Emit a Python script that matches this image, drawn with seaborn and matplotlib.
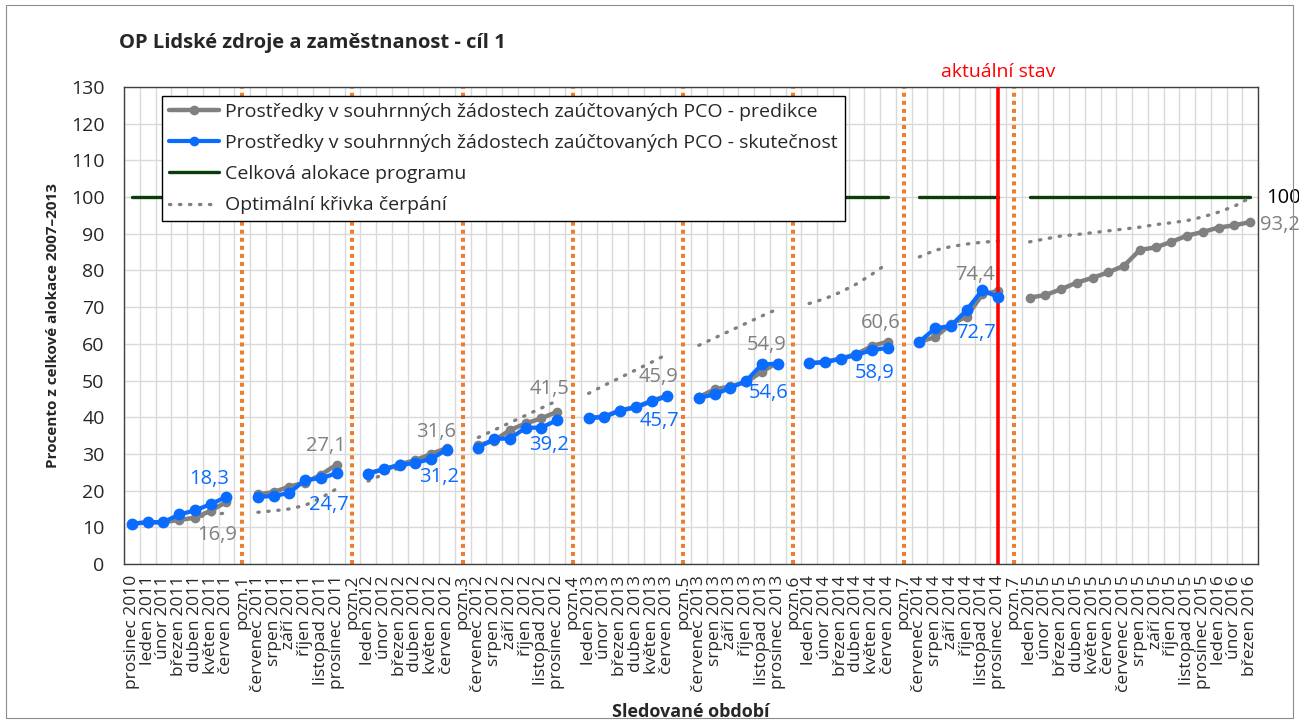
import numpy as np
import pandas as pd
import seaborn as sns
import matplotlib.pyplot as plt
from matplotlib.lines import Line2D
from matplotlib.patches import Rectangle
import matplotlib.transforms as mtransforms

sns.set_style("white")
plt.rcParams['font.family'] = ['Open Sans', 'DejaVu Sans']

N = None

# x axis categories (pozn. = separator between half-years)
categories = [
    'prosinec 2010', 'leden 2011', 'únor 2011', 'březen 2011', 'duben 2011', 'květen 2011', 'červen 2011', 'pozn.1',
    'červenec 2011', 'srpen 2011', 'září 2011', 'říjen 2011', 'listopad 2011', 'prosinec 2011', 'pozn.2',
    'leden 2012', 'únor 2012', 'březen 2012', 'duben 2012', 'květen 2012', 'červen 2012', 'pozn.3',
    'červenec 2012', 'srpen 2012', 'září 2012', 'říjen 2012', 'listopad 2012', 'prosinec 2012', 'pozn.4',
    'leden 2013', 'únor 2013', 'březen 2013', 'duben 2013', 'květen 2013', 'červen 2013', 'pozn.5',
    'červenec 2013', 'srpen 2013', 'září 2013', 'říjen 2013', 'listopad 2013', 'prosinec 2013', 'pozn.6',
    'leden 2014', 'únor 2014', 'březen 2014', 'duben 2014', 'květen 2014', 'červen 2014', 'pozn.7',
    'červenec 2014', 'srpen 2014', 'září 2014', 'říjen 2014', 'listopad 2014', 'prosinec 2014', 'pozn.7',
    'leden 2015', 'únor 2015', 'březen 2015', 'duben 2015', 'květen 2015', 'červen 2015',
    'červenec 2015', 'srpen 2015', 'září 2015', 'říjen 2015', 'listopad 2015', 'prosinec 2015',
    'leden 2016', 'únor 2016', 'březen 2016',
]

predikce = [
    11.0, 11.3, 11.4, 12.0, 12.6, 14.5, 16.9, N,
    19.0, 19.6, 21.1, 22.2, 24.3, 27.1, N,
    24.8, 25.7, 27.2, 28.3, 30.0, 31.6, N,
    32.4, 33.6, 36.5, 38.3, 39.7, 41.5, N,
    39.8, 40.2, 41.9, 42.8, 44.5, 45.9, N,
    45.5, 47.6, 48.4, 49.6, 52.4, 54.9, N,
    54.7, 55.1, 56.0, 57.2, 59.4, 60.6, N,
    60.6, 61.8, 65.4, 67.4, 73.5, 74.4, N,
    72.6, 73.3, 74.9, 76.7, 78.0, 79.5, 81.3, 85.6, 86.3, 87.8, 89.5, 90.5, 91.7, 92.3, 93.2,
]

skutecnost = [
    11.0, 11.4, 11.4, 13.5, 14.6, 16.3, 18.3, N,
    18.3, 18.5, 19.4, 22.9, 23.4, 24.7, N,
    24.6, 25.9, 26.9, 27.6, 28.6, 31.2, N,
    31.7, 34.1, 34.2, 37.1, 37.2, 39.2, N,
    39.7, 40.1, 41.8, 42.7, 44.3, 45.7, N,
    45.3, 46.2, 48.0, 49.9, 54.4, 54.6, N,
    54.7, 55.0, 55.9, 57.0, 58.3, 58.9, N,
    60.6, 64.2, 64.9, 69.2, 74.7, 72.7, N,
    N, N, N, N, N, N, N, N, N, N, N, N, N, N, N,
]

optimalni = [
    11.0, 11.2, 11.5, 12.0, 12.7, 13.4, 13.9, N,
    14.1, 14.5, 15.0, 16.0, 18.0, 20.5, N,
    22.6, 24.5, 26.3, 28.0, 29.5, 31.0, N,
    34.5, 36.5, 38.5, 40.5, 42.5, 44.5, N,
    46.5, 48.7, 50.8, 52.9, 55.0, 57.2, N,
    59.6, 61.6, 63.6, 65.6, 67.6, 69.5, N,
    71.0, 72.3, 74.1, 76.3, 79.0, 82.0, N,
    83.7, 85.5, 86.5, 87.2, 87.7, 88.0, N,
    87.8, 88.6, 89.4, 89.8, 90.3, 90.8, 91.3, 91.8, 92.5, 93.0, 93.6, 94.6, 95.9, 97.5, 99.8,
]

alokace = [N if c.startswith('pozn') else 100 for c in categories]

pozn_idx = [i for i, c in enumerate(categories) if c.startswith('pozn')]
aktualni_idx = 55

c_grey = '#808080'
c_blue = '#0A6CFF'
c_green = '#0B3D0B'
c_orange = '#ED7D31'


def segments(values):
    df = pd.DataFrame({'x': np.arange(len(values)), 'y': pd.array(values, dtype='Float64')})
    df['seg'] = df['y'].isna().cumsum()
    df = df.dropna().astype({'y': float})
    return df


fig = plt.figure(figsize=(12.99, 7.22), dpi=100)
ax = fig.add_axes([124 / 1299, 1 - 564 / 722, 1134 / 1299, 477 / 722])

sns.lineplot(data=segments(alokace), x='x', y='y', units='seg', estimator=None, sort=False,
             color=c_green, lw=2.4, ax=ax, legend=False, zorder=3)
sns.lineplot(data=segments(optimalni), x='x', y='y', units='seg', estimator=None, sort=False,
             color=c_grey, lw=2.4, ls=(0, (0.4, 2.6)), dash_capstyle='round', ax=ax, legend=False, zorder=4)
sns.lineplot(data=segments(predikce), x='x', y='y', units='seg', estimator=None, sort=False,
             color=c_grey, lw=3.2, marker='o', markersize=7, markeredgewidth=0, ax=ax, legend=False, zorder=5)
sns.lineplot(data=segments(skutecnost), x='x', y='y', units='seg', estimator=None, sort=False,
             color=c_blue, lw=3.0, marker='o', markersize=8.5, markeredgewidth=0, ax=ax, legend=False, zorder=6)

for i in pozn_idx:
    ax.axvline(i, color=c_orange, lw=2.9, ls=(0, (1, 1)), zorder=2)
ax.axvline(aktualni_idx, color='#FF0000', lw=2.6, zorder=5.5)
trans = mtransforms.blended_transform_factory(ax.transData, ax.transAxes)
ax.text(aktualni_idx, 1.031, 'aktuální stav', color='#FF0000', fontsize=14,
        ha='center', va='center', transform=trans)

# data labels: (index, value, text, colour, dx px, dy px)
labels = [
    (6, 18.3, '18,3', c_blue, -17, 18), (6, 16.9, '16,9', c_grey, -9, -33),
    (13, 27.1, '27,1', c_grey, -11, 19), (13, 24.7, '24,7', c_blue, -8, -32),
    (20, 31.6, '31,6', c_grey, -11, 16), (20, 31.2, '31,2', c_blue, -8, -27),
    (27, 41.5, '41,5', c_grey, -8, 23), (27, 39.2, '39,2', c_blue, -8, -25),
    (34, 45.9, '45,9', c_grey, -9, 19), (34, 45.7, '45,7', c_blue, -8, -25),
    (41, 54.9, '54,9', c_grey, -11, 18), (41, 54.6, '54,6', c_blue, -9, -29),
    (48, 60.6, '60,6', c_grey, -7, 19), (48, 58.9, '58,9', c_blue, -13, -25),
    (55, 74.4, '74,4', c_grey, -23, 16), (55, 72.7, '72,7', c_blue, -22, -36),
]
for i, v, t, c, dx, dy in labels:
    ax.annotate(t, (i, v), xytext=(dx, dy), textcoords='offset pixels', color=c,
                fontsize=14.5, ha='center', va='center', zorder=8)
ax.annotate('93,2', (71, 93.2), xytext=(10, -3), textcoords='offset pixels', color=c_grey,
            fontsize=14.5, ha='left', va='center', annotation_clip=False)
ax.annotate('100', (71, 100), xytext=(16, -1), textcoords='offset pixels', color='black',
            fontsize=14.5, ha='left', va='center', annotation_clip=False)

ax.set_xlim(-0.5, len(categories) - 0.5)
ax.set_ylim(0, 130)
ax.set_yticks(np.arange(0, 131, 10))
ax.set_xticks(np.arange(len(categories)))
ax.set_xticklabels(categories, rotation=90, fontsize=12.5)
ax.set_xticks(np.arange(-0.5, len(categories), 1), minor=True)
ax.tick_params(axis='y', labelsize=14, length=0, pad=14)
ax.tick_params(axis='x', which='major', length=5, width=1, color='#404040', direction='out', pad=3)
ax.tick_params(axis='x', which='minor', length=0)
ax.grid(axis='y', color='#D9D9D9', lw=1)
ax.grid(axis='x', which='minor', color='#D9D9D9', lw=1)
ax.grid(axis='x', which='major', visible=False)
ax.set_axisbelow(True)
for s in ax.spines.values():
    s.set_color('#404040')
    s.set_linewidth(1)
    s.set_visible(True)

ax.set_xlabel('Sledované období', fontsize=13, fontweight='bold', labelpad=8)
ax.set_ylabel('Procento z celkové alokace 2007–2013', fontsize=11, fontweight='bold', labelpad=8)
fig.text(119 / 1299, 1 - 43 / 722, 'OP Lidské zdroje a zaměstnanost - cíl 1', fontsize=14.5,
         fontweight='bold', ha='left', va='center')

handles = [
    Line2D([], [], color=c_grey, lw=3.2, marker='o', markersize=7, markeredgewidth=0),
    Line2D([], [], color=c_blue, lw=3.0, marker='o', markersize=7, markeredgewidth=0),
    Line2D([], [], color=c_green, lw=2.4),
    Line2D([], [], color=c_grey, lw=2.4, ls=(0, (0.4, 2.6)), dash_capstyle='round'),
]
names = [
    'Prostředky v souhrnných žádostech zaúčtovaných PCO - predikce',
    'Prostředky v souhrnných žádostech zaúčtovaných PCO - skutečnost',
    'Celková alokace programu',
    'Optimální křivka čerpání',
]
leg = ax.legend(handles, names, loc='upper left', bbox_to_anchor=(38 / 1134, 1 - 9 / 477),
                borderaxespad=0, fontsize=14, handlelength=2.6, labelspacing=0.68,
                frameon=True, fancybox=False, edgecolor='black', framealpha=1, borderpad=0.35,
                handletextpad=0.3)
leg.get_frame().set_linewidth(1)
leg.set_zorder(10)

fig.patches.append(Rectangle((6 / 1299, 4 / 722), 1287 / 1299, 713 / 722, transform=fig.transFigure,
                             fill=False, edgecolor='#8C8C8C', lw=0.8))

fig.savefig('out.png', dpi=100)
